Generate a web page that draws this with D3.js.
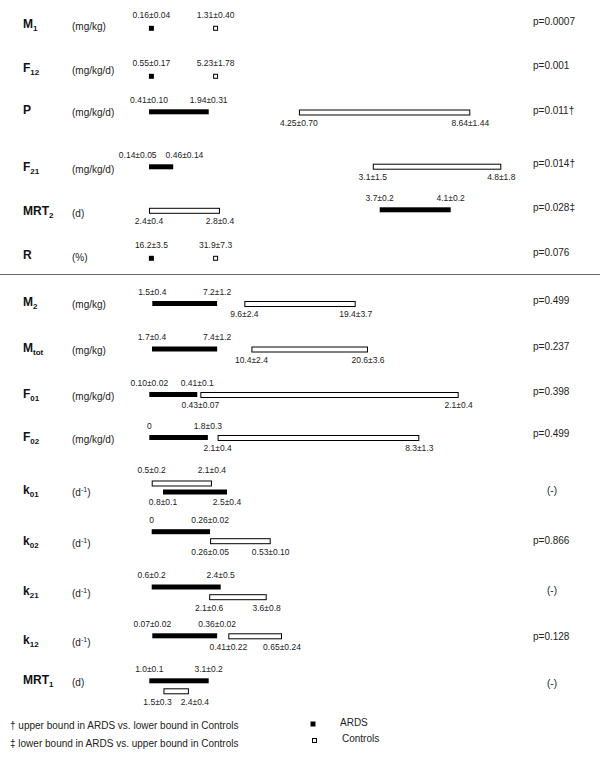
<!DOCTYPE html>
<html>
<head>
<meta charset="utf-8">
<script src="https://cdn.jsdelivr.net/npm/d3@7"></script>
<style>
  body { margin: 0; background: #fff; }
  svg { display: block; }
</style>
</head>
<body>
<script>
// parameters (name + subscript) and units
const paramName = ["M", "F", "P", "F", "MRT", "R", "M", "M", "F", "F", "k", "k", "k", "k", "MRT"];
const paramSub = ["1", "12", "", "21", "2", "", "2", "tot", "01", "02", "01", "02", "21", "12", "1"];
const paramUnit = ["mg/kg", "mg/kg/d", "mg/kg/d", "mg/kg/d", "d", "%", "mg/kg", "mg/kg", "mg/kg/d", "mg/kg/d", "d-1", "d-1", "d-1", "d-1", "d"];

// mean±sd, lower / upper bound (null = single value)
const ardsLow = ["0.16±0.04", "0.55±0.17", "0.41±0.10", "0.14±0.05", "3.7±0.2", "16.2±3.5", "1.5±0.4", "1.7±0.4", "0.10±0.02", "0", "0.8±0.1", "0", "0.6±0.2", "0.07±0.02", "1.0±0.1"];
const ardsHigh = [null, null, "1.94±0.31", "0.46±0.14", "4.1±0.2", null, "7.2±1.2", "7.4±1.2", "0.41±0.1", "1.8±0.3", "2.5±0.4", "0.26±0.02", "2.4±0.5", "0.36±0.02", "3.1±0.2"];
const ctrlLow = ["1.31±0.40", "5.23±1.78", "4.25±0.70", "3.1±1.5", "2.4±0.4", "31.9±7.3", "9.6±2.4", "10.4±2.4", "0.43±0.07", "2.1±0.4", "0.5±0.2", "0.26±0.05", "2.1±0.6", "0.41±0.22", "1.5±0.3"];
const ctrlHigh = [null, null, "8.64±1.44", "4.8±1.8", "2.8±0.4", null, "19.4±3.7", "20.6±3.6", "2.1±0.4", "8.3±1.3", "2.1±0.4", "0.53±0.10", "3.6±0.8", "0.65±0.24", "2.4±0.4"];
const pValues = ["p=0.0007", "p=0.001", "p=0.011†", "p=0.014†", "p=0.028‡", "p=0.076", "p=0.499", "p=0.237", "p=0.398", "p=0.499", "(-)", "p=0.866", "(-)", "p=0.128", "(-)"];

const seriesNames = ["ARDS", "Controls"];
const footnotes = ["† upper bound in ARDS vs. lower bound in Controls", "‡ lower bound in ARDS vs. upper bound in Controls"];

// layout (pixels)
const rowY = [24, 68, 110, 167, 211, 255, 302, 348, 394, 437, 490, 541, 591, 640, 680];
const pY = [21, 65, 110, 163, 207, 252, 300, 346, 391, 433, 490, 540, 590, 636, 683];
const ardsBarY = [28.3, 76.3, 111.8, 166.8, 209.8, 258.3, 303.5, 349, 394.5, 437.5, 492, 531.7, 587, 635.8, 680.8];
const ctrlBarY = [28.3, 76.3, 112, 166.2, 210.3, 258.3, 303.5, 349, 394.5, 437.5, 483, 540.7, 596.7, 635.8, 690.8];
const ardsSide = [-1, -1, -1, -1, -1, -1, -1, -1, -1, -1, 1, -1, -1, -1, -1];
const ctrlSide = [-1, -1, 1, 1, 1, -1, 1, 1, 1, 1, -1, 1, 1, 1, 1];
const xRange = [null, null, [149, 470.3], [149, 501.3], [149, 450.7], null, [152.3, 355.7], [152, 368],
  [149.3, 458.7], [149.3, 419.3], [151.7, 227], [151.7, 270.7], [151.7, 266.7], [152.3, 282], [149.3, 208.7]];

const width = 600, height = 757;
const font = "Arial, 'Liberation Sans', Helvetica, sans-serif";
const barH = 5;

const svg = d3.select("body").append("svg")
  .attr("width", width)
  .attr("height", height)
  .style("font-family", font);

// value label helper: places labels centred on x, pushes apart when they collide
function valueLabels(g, texts, xs, y) {
  const nodes = texts.map((t, j) => g.append("text")
    .attr("x", xs[j])
    .attr("y", y)
    .attr("dy", "0.35em")
    .attr("text-anchor", "middle")
    .attr("font-size", 8.5)
    .attr("fill", "#222")
    .text(t));
  if (nodes.length === 2) {
    const w0 = nodes[0].node().getComputedTextLength();
    const w1 = nodes[1].node().getComputedTextLength();
    const need = w0 / 2 + w1 / 2 + 9;
    const sep = xs[1] - xs[0];
    if (sep < need) {
      const mid = (xs[0] + xs[1]) / 2;
      nodes[0].attr("x", mid - need / 2);
      nodes[1].attr("x", mid + need / 2);
    }
  }
}

const pointX = d3.scalePoint().domain(seriesNames).range([151.4, 215.6]);

paramName.forEach((name, i) => {
  const g = svg.append("g").attr("class", "row");

  // parameter name
  const nt = g.append("text")
    .attr("x", 23).attr("y", rowY[i]).attr("dy", "0.35em")
    .attr("font-size", 12).attr("font-weight", "bold").attr("fill", "#111");
  nt.append("tspan").text(name);
  if (paramSub[i]) nt.append("tspan").attr("font-size", 8).attr("dy", 3).text(paramSub[i]);

  // units
  const ut = g.append("text")
    .attr("x", 72).attr("y", rowY[i] + 2).attr("dy", "0.35em")
    .attr("font-size", 10).attr("fill", "#222");
  if (paramUnit[i] === "d-1") {
    ut.append("tspan").text("(d");
    ut.append("tspan").attr("font-size", 7).attr("dy", -4).text("-1");
    ut.append("tspan").attr("dy", 4).text(")");
  } else {
    ut.text("(" + paramUnit[i] + ")");
  }

  // p value
  g.append("text")
    .attr("x", pValues[i] === "(-)" ? 547 : 533)
    .attr("y", pY[i]).attr("dy", "0.35em")
    .attr("font-size", 10).attr("fill", "#222")
    .text(pValues[i]);

  if (!xRange[i]) {
    // single values: squares
    const vals = [ardsLow[i], ctrlLow[i]];
    seriesNames.forEach((s, j) => {
      const cx = pointX(s);
      const cy = j === 0 ? ardsBarY[i] : ctrlBarY[i];
      if (j === 0) {
        g.append("rect").attr("x", cx - 2.5).attr("y", cy - 2.5)
          .attr("width", 5).attr("height", 5).attr("fill", "#000");
      } else {
        g.append("rect").attr("x", cx - 2).attr("y", cy - 2)
          .attr("width", 4).attr("height", 4)
          .attr("fill", "#fff").attr("stroke", "#000").attr("stroke-width", 1);
      }
      valueLabels(g, [vals[j]], [cx], cy - 13);
    });
    return;
  }

  const a0 = parseFloat(ardsLow[i]), a1 = parseFloat(ardsHigh[i]);
  const c0 = parseFloat(ctrlLow[i]), c1 = parseFloat(ctrlHigh[i]);
  const x = d3.scaleLinear()
    .domain(d3.extent([a0, a1, c0, c1]))
    .range(xRange[i]);

  // ARDS bar (filled)
  g.append("rect")
    .attr("x", x(a0)).attr("y", ardsBarY[i] - barH / 2)
    .attr("width", x(a1) - x(a0)).attr("height", barH)
    .attr("fill", "#000");

  // Controls bar (open)
  g.append("rect")
    .attr("x", x(c0) + 0.5).attr("y", ctrlBarY[i] - barH / 2 + 0.5)
    .attr("width", x(c1) - x(c0) - 1).attr("height", barH)
    .attr("fill", "#fff").attr("stroke", "#000").attr("stroke-width", 1);

  valueLabels(g, [ardsLow[i], ardsHigh[i]], [x(a0), x(a1)],
    ardsBarY[i] + (ardsSide[i] < 0 ? -11.5 : 10.5));
  valueLabels(g, [ctrlLow[i], ctrlHigh[i]], [x(c0), x(c1)],
    ctrlBarY[i] + (ctrlSide[i] < 0 ? -13 : 11));
});

// separator between the two groups of parameters
svg.append("line")
  .attr("x1", 0).attr("x2", width)
  .attr("y1", 274.5).attr("y2", 274.5)
  .attr("stroke", "#666").attr("stroke-width", 1);

// footnotes
svg.selectAll(".footnote")
  .data(footnotes)
  .enter()
  .append("text")
  .attr("class", "footnote")
  .attr("x", 10)
  .attr("y", (d, i) => 725 + i * 18.3)
  .attr("dy", "0.35em")
  .attr("font-size", 10)
  .attr("fill", "#222")
  .text(d => d);

// legend
const legend = svg.append("g").attr("class", "legend");
legend.append("rect").attr("x", 310.5).attr("y", 721.5)
  .attr("width", 5).attr("height", 5).attr("fill", "#000");
legend.append("rect").attr("x", 312.5).attr("y", 738.5)
  .attr("width", 4).attr("height", 4)
  .attr("fill", "#fff").attr("stroke", "#000").attr("stroke-width", 1);
legend.selectAll(".legend-label")
  .data(seriesNames)
  .enter()
  .append("text")
  .attr("class", "legend-label")
  .attr("x", (d, i) => 340 + i * 2)
  .attr("y", (d, i) => 722.5 + i * 15.5)
  .attr("dy", "0.35em")
  .attr("font-size", 10)
  .attr("fill", "#222")
  .text(d => d);
</script>
</body>
</html>
